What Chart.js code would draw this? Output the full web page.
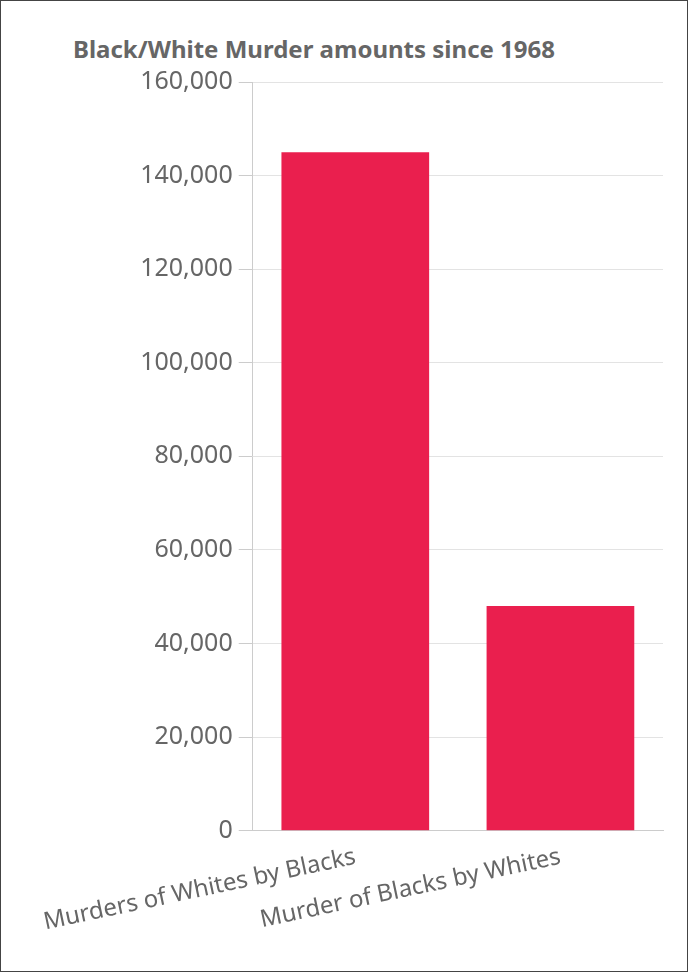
<!DOCTYPE html>
<html><head><meta charset="utf-8">
<script src="https://cdn.jsdelivr.net/npm/chart.js@4/dist/chart.umd.min.js"></script>
<style>
html,body{margin:0;padding:0;background:#fff;}
#wrap{position:relative;width:686px;height:970px;border:1px solid #444;}
#title{position:absolute;left:72px;top:31px;font:bold 24px "Noto Sans",sans-serif;color:#666;}
#c{position:absolute;left:0;top:60px;}
</style></head><body>
<div id="wrap"><div id="title">Black/White Murder amounts since 1968</div>
<canvas id="c" width="686" height="910"></canvas></div>
<script>
const categories=["Murders of Whites by Blacks","Murder of Blacks by Whites"];
const values=[145000,48000];
new Chart(document.getElementById('c'),{
type:'bar',
data:{labels:categories,datasets:[{data:values,backgroundColor:'#ea1f4e',categoryPercentage:0.72,barPercentage:1}]},
options:{responsive:false,animation:false,
layout:{padding:{top:20,right:24,left:38,bottom:30}},
plugins:{legend:{display:false},tooltip:{enabled:false}},
scales:{
y:{min:0,max:160000,ticks:{stepSize:20000,color:'#666',font:{family:'Noto Sans',size:25},padding:6,
 callback:v=>v.toLocaleString('en-US')},
 grid:{color:'#e3e3e3',tickLength:14,tickColor:'#ccc'},border:{color:'#ccc'}},
x:{ticks:{color:'#666',font:{family:'Noto Sans',size:24},minRotation:12,maxRotation:12,padding:4},
 grid:{display:false},border:{color:'#ccc'}}
}}});
</script></body></html>
